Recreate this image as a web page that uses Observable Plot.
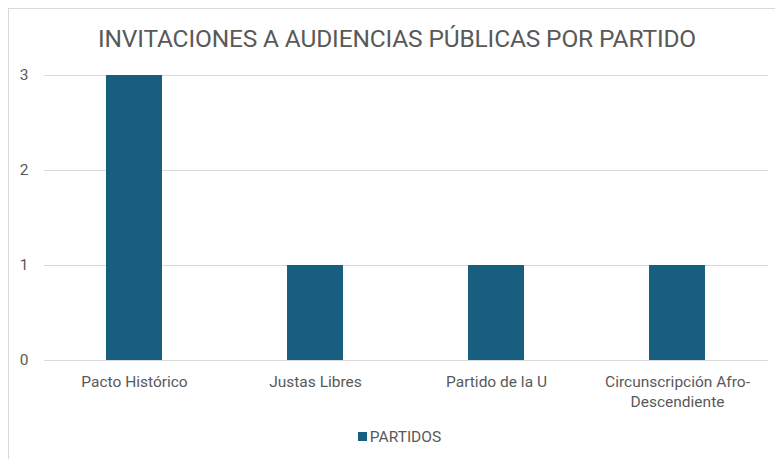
<!DOCTYPE html>
<html>
<head>
<meta charset="utf-8">
<script src="https://cdn.jsdelivr.net/npm/d3@7"></script>
<script src="https://cdn.jsdelivr.net/npm/@observablehq/plot@0.6"></script>
<style>
  html, body { margin: 0; padding: 0; background: #fff; overflow: hidden; }
  body { width: 775px; height: 459px; position: relative; font-family: Roboto, "Liberation Sans", sans-serif; }
  #frame { position: absolute; left: 8px; top: 8px; width: 800px; height: 480px; border: 1px solid #d9d9d9; box-sizing: border-box; }
  #title { position: absolute; left: 9px; width: 776px; top: 24px; text-align: center; font-size: 24.5px; color: #595959; white-space: nowrap; letter-spacing: -0.15px; }
  #chart { position: absolute; left: 0; top: 60px; }
  #legend { position: absolute; left: 12px; width: 775px; top: 428px; text-align: center; font-size: 15.5px; color: #595959; }
  #legend span.sw { display: inline-block; width: 9px; height: 9px; margin-right: 3px; vertical-align: 1px; }
</style>
</head>
<body>
<div id="frame"></div>
<div id="title"></div>
<div id="chart"></div>
<div id="legend"></div>
<script>
const titleText = "INVITACIONES A AUDIENCIAS PÚBLICAS POR PARTIDO";
const seriesName = "PARTIDOS";
const categories = ["Pacto Histórico", "Justas Libres", "Partido de la U", "Circunscripción Afro-Descendiente"];
const categoryLabels = ["Pacto Histórico", "Justas Libres", "Partido de la U", "Circunscripción Afro-\nDescendiente"];
const values = [3, 1, 1, 1];
const yTicks = [0, 1, 2, 3];
const barColor = "#175e80";
const textColor = "#595959";

const data = categories.map((c, i) => ({category: c, value: values[i]}));
const labelOf = new Map(categories.map((c, i) => [c, categoryLabels[i]]));

document.getElementById("title").textContent = titleText;
document.getElementById("legend").innerHTML =
  `<span class="sw" style="background:${barColor}"></span>${seriesName}`;

const chart = Plot.plot({
  width: 775,
  height: 360,
  marginTop: 15,
  marginBottom: 60,
  marginLeft: 44,
  marginRight: 7,
  style: {fontFamily: "Roboto, 'Liberation Sans', sans-serif", fontSize: "15.5px", color: textColor, background: "transparent"},
  x: {domain: categories, paddingInner: 0.69, paddingOuter: 0.345, label: null},
  y: {domain: [0, 3], label: null},
  marks: [
    Plot.gridY(yTicks, {stroke: "#d9d9d9", strokeOpacity: 1, strokeWidth: 1}),
    Plot.barY(data, {x: "category", y: "value", fill: barColor}),
    Plot.axisY(yTicks, {tickSize: 0, tickPadding: 16, fill: textColor, fontSize: 15.5, tickFormat: d => String(d), label: null}),
    Plot.axisX({tickSize: 0, tickPadding: 13, fill: textColor, fontSize: 15.5, lineHeight: 1.25, tickFormat: d => labelOf.get(d), label: null})
  ]
});
document.getElementById("chart").appendChild(chart);
</script>
</body>
</html>
